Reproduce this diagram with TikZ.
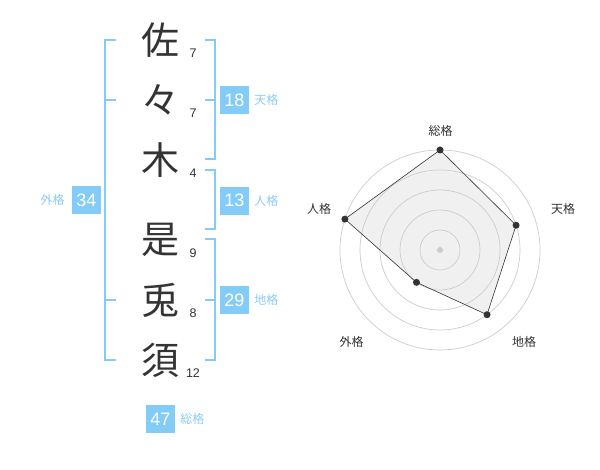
\documentclass[tikz,border=0pt]{standalone}
\usepackage{fontspec}
\setmainfont{Liberation Sans}
\newfontfamily\jpfont{Noto Sans CJK JP}
\usetikzlibrary{positioning,calc}
\definecolor{kakublue}{HTML}{84CCF8}
\definecolor{kakutext}{HTML}{8ACBF2}
\definecolor{inkgray}{HTML}{333333}
\tikzset{
  namechar/.style={font=\jpfont\fontsize{38}{38}\selectfont, text=inkgray, inner sep=0pt},
  strokes/.style={font=\fontsize{12.5}{13}\selectfont, text=inkgray, inner sep=0pt},
  kakubox/.style={fill=kakublue, text=white, font=\fontsize{18}{18}\selectfont, minimum width=29pt, minimum height=28pt, inner sep=0pt},
  kakulabel/.style={font=\jpfont\fontsize{12}{12}\selectfont, text=kakutext, inner sep=0pt},
  bracket/.style={draw=kakublue, line width=2pt},
  ring/.style={draw=black!20, line width=0.7pt},
  axislabel/.style={font=\jpfont\fontsize{12}{12}\selectfont, text=inkgray, inner sep=0pt},
  dot/.style={circle, fill=inkgray, inner sep=0pt, minimum size=7pt},
}
\begin{document}
\begin{tikzpicture}[x=1pt,y=1pt]
	\useasboundingbox (0,0) rectangle (600,470);
	% name characters and stroke counts
	\foreach \y/\c/\n [count=\i] in {430/佐/7, 370/々/7, 310/木/4, 230/是/9, 170/兎/8, 110/須/12} {
		\node[namechar] (ch\i) at (160,\y) {\c};
		\node[strokes] (st\i) at (193,\y-13) {\n};
	}
	% brackets
	\draw[bracket] (116,430) -- (105,430) -- (105,110) -- (116,110);
	\draw[bracket] (105,370) -- (116,370);
	\draw[bracket] (105,170) -- (116,170);
	\draw[bracket] (205,430) -- (215,430) -- (215,310.5) -- (205,310.5);
	\draw[bracket] (205,370) -- (215,370);
	\draw[bracket] (205,300) -- (215,300) -- (215,240.5) -- (205,240.5);
	\draw[bracket] (205,230.5) -- (215,230.5) -- (215,110) -- (205,110);
	\draw[bracket] (205,170) -- (215,170);
	% kaku boxes
	\node[kakubox] (gai) at (86.5,270) {34};
	\node[kakulabel, left=7pt of gai] (gailbl) {外格};
	\node[kakubox] (ten) at (234.5,370) {18};
	\node[kakulabel, right=5pt of ten] (tenlbl) {天格};
	\node[kakubox] (jin) at (234.5,269.3) {13};
	\node[kakulabel, right=5pt of jin] (jinlbl) {人格};
	\node[kakubox] (chi) at (234.5,170) {29};
	\node[kakulabel, right=5pt of chi] (chilbl) {地格};
	\node[kakubox] (sou) at (160.5,51) {47};
	\node[kakulabel, right=5pt of sou] (soulbl) {総格};
	% radar chart
	\coordinate (ctr) at (440,220);
	\foreach \a/\r/\k in {90/100/s, 18/80/t, -54/80/c, -126/40/g, 162/100/j}
		\coordinate (p\k) at ($(ctr)+(\a:\r)$);
	\fill[black!6] (ps) -- (pt) -- (pc) -- (pg) -- (pj) -- cycle;
	\foreach \r in {20,40,...,100}
		\draw[ring] (ctr) circle (\r);
	\fill[black!20] (ctr) circle (3);
	\draw[inkgray, line width=0.6pt] (ps) -- (pt) -- (pc) -- (pg) -- (pj) -- cycle;
	\foreach \k in {s,t,c,g,j}
		\node[dot] (d\k) at (p\k) {};
	\node[axislabel] (lbls) at (440.5,339.3) {総格};
	\node[axislabel] (lblt) at (563,261) {天格};
	\node[axislabel] (lblc) at (524,128.3) {地格};
	\node[axislabel] (lblg) at (351.7,128.3) {外格};
	\node[axislabel] (lblj) at (319,261) {人格};
\end{tikzpicture}
\end{document}
